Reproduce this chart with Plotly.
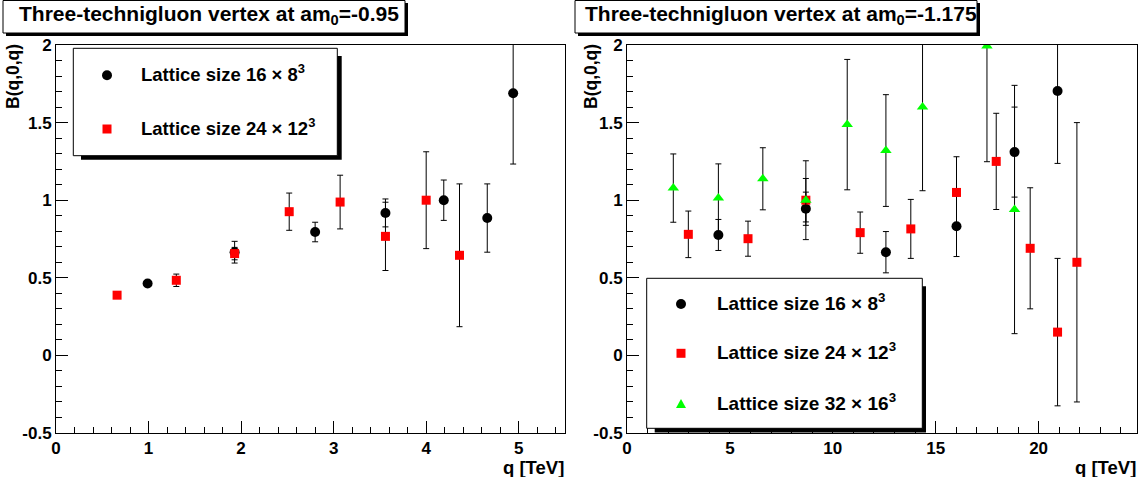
import plotly.graph_objects as go

W, H = 1145, 477

# ---------------- data ----------------
# left panel: am0 = -0.95
q_l_16 = [0.99, 1.93, 2.80, 3.56, 4.19, 4.66, 4.94]
B_l_16 = [0.463, 0.665, 0.795, 0.918, 1.0, 0.885, 1.689]
e_l_16 = [0.01, 0.07, 0.063, 0.09, 0.13, 0.22, 0.456]

q_l_24 = [0.66, 1.30, 1.93, 2.52, 3.07, 3.56, 4.00, 4.36]
B_l_24 = [0.388, 0.484, 0.656, 0.926, 0.988, 0.767, 1.0, 0.645]
e_l_24 = [0.01, 0.04, 0.04, 0.12, 0.173, 0.22, 0.312, 0.46]

# right panel: am0 = -1.175
q_r_16 = [4.44, 8.69, 12.58, 16.01, 18.83, 20.92]
B_r_16 = [0.776, 0.945, 0.665, 0.832, 1.31, 1.704]
e_r_16 = [0.1, 0.107, 0.133, 0.195, 0.29, 0.467]

q_r_24 = [2.98, 5.88, 8.69, 11.33, 13.79, 16.01, 17.94, 19.59, 20.92, 21.86]
B_r_24 = [0.78, 0.752, 1.0, 0.791, 0.815, 1.05, 1.25, 0.69, 0.15, 0.60]
e_r_24 = [0.15, 0.113, 0.14, 0.133, 0.19, 0.23, 0.31, 0.39, 0.475, 0.9]

q_r_32 = [2.25, 4.44, 6.60, 8.69, 10.70, 12.58, 14.36, 17.49, 18.83]
B_r_32 = [1.078, 1.014, 1.138, 1.0, 1.487, 1.32, 1.601, 1.994, 0.94]
e_r_32 = [0.22, 0.22, 0.2, 0.254, 0.42, 0.36, 0.54, 0.746, 0.8]

titles = ["Three-technigluon vertex at am<sub>0</sub>=-0.95",
          "Three-technigluon vertex at am<sub>0</sub>=-1.175"]
legend_labels = ["Lattice size 16 \u00d7 8<sup>3</sup>",
                 "Lattice size 24 \u00d7 12<sup>3</sup>",
                 "Lattice size 32 \u00d7 16<sup>3</sup>"]
x_title = "q [TeV]"
y_title = "B(q,0,q)"

FONT = "Liberation Sans, Arial, Helvetica, sans-serif"
RED = "#ff0000"
GREEN = "#00ff00"


def px(x):
    return x / W


def py(y):
    return 1 - y / H


fig = go.Figure()


def add_series(q, B, e, color, symbol, size, xa, ya):
    fig.add_trace(go.Scatter(
        x=q, y=B, mode="markers", xaxis=xa, yaxis=ya, showlegend=False,
        marker=dict(color=color, symbol=symbol, size=size, line=dict(width=0)),
        error_y=dict(type="data", array=e, visible=True, color="black",
                     thickness=1, width=3),
        hoverinfo="skip"))


add_series(q_l_16, B_l_16, e_l_16, "black", "circle", 10, "x", "y")
add_series(q_l_24, B_l_24, e_l_24, RED, "square", 9, "x", "y")
add_series(q_r_16, B_r_16, e_r_16, "black", "circle", 10, "x2", "y2")
add_series(q_r_24, B_r_24, e_r_24, RED, "square", 9, "x2", "y2")
add_series(q_r_32, B_r_32, e_r_32, GREEN, "triangle-up", 10, "x2", "y2")

tickfont = dict(family=FONT, size=17, color="black", weight="bold")
ydom = [py(433), py(45)]
common_x = dict(showline=True, mirror=True, linecolor="black", linewidth=1,
                showgrid=False, zeroline=False, ticks="inside", ticklen=12,
                tickcolor="black", tickwidth=1, tickfont=tickfont,
                automargin=False)
common_y = dict(common_x, range=[-0.5, 2],
                tickvals=[-0.5, 0, 0.5, 1, 1.5, 2],
                ticktext=["-0.5", "0", "0.5", "1", "1.5", "2"],
                minor=dict(dtick=0.1, tick0=0, ticks="inside", ticklen=6,
                           tickcolor="black", tickwidth=1),
                domain=ydom)

fig.update_layout(
    template="none",
    width=W, height=H, autosize=False,
    margin=dict(l=0, r=0, t=0, b=0, pad=0),
    paper_bgcolor="white", plot_bgcolor="white",
    xaxis=dict(common_x, domain=[px(56), px(565)], range=[0, 5.5],
               tick0=0, dtick=1,
               minor=dict(dtick=0.2, tick0=0, ticks="inside", ticklen=6,
                          tickcolor="black", tickwidth=1),
               anchor="y"),
    yaxis=dict(common_y, anchor="x"),
    xaxis2=dict(common_x, domain=[px(627), px(1137)], range=[0, 24.78],
                tick0=0, dtick=5,
                minor=dict(dtick=1, tick0=0, ticks="inside", ticklen=6,
                           tickcolor="black", tickwidth=1),
                anchor="y2"),
    yaxis2=dict(common_y, anchor="x2"),
)

shapes = []
annotations = []


def rect(x0, y0, x1, y1, fill, line=None, layer="above"):
    shapes.append(dict(type="rect", xref="paper", yref="paper",
                       x0=px(x0), x1=px(x1), y0=py(y1), y1=py(y0),
                       fillcolor=fill,
                       line=dict(color=line if line else fill,
                                 width=1 if line else 0),
                       layer=layer))


def text(x, y, s, size, xanchor="left", yanchor="middle", angle=0):
    annotations.append(dict(xref="paper", yref="paper", x=px(x), y=py(y),
                            text="<b>" + s + "</b>", showarrow=False,
                            xanchor=xanchor, yanchor=yanchor, textangle=angle,
                            font=dict(family=FONT, size=size, color="black"),
                            borderpad=0))


# title boxes
for (bx0, bx1, tx), t in zip([(3, 405, 18), (575, 977, 584)], titles):
    rect(bx0 + 3, 3, bx1 + 3, 36, "black")
    rect(bx0, 0.5, bx1, 33, "white", "black")
    text(tx, 15, t, 21)

# axis titles
for xr, yc in [(565, 13), (1137, 591)]:
    text(xr, 467, x_title, 18.5, xanchor="right")
    text(yc, 77, y_title, 17.5, xanchor="center", angle=-90)


def glyph(kind, cx, cy, color, s):
    h = s / 2
    if kind == "circle":
        shapes.append(dict(type="circle", xref="paper", yref="paper",
                           x0=px(cx - h), x1=px(cx + h), y0=py(cy + h), y1=py(cy - h),
                           fillcolor=color, line=dict(width=0), layer="above"))
    elif kind == "square":
        shapes.append(dict(type="rect", xref="paper", yref="paper",
                           x0=px(cx - h), x1=px(cx + h), y0=py(cy + h), y1=py(cy - h),
                           fillcolor=color, line=dict(width=0), layer="above"))
    else:
        path = "M {},{} L {},{} L {},{} Z".format(
            px(cx - h), py(cy + h * 0.8), px(cx + h), py(cy + h * 0.8),
            px(cx), py(cy - h))
        shapes.append(dict(type="path", xref="paper", yref="paper", path=path,
                           fillcolor=color, line=dict(width=0), layer="above"))


# left legend
rect(81, 56, 341.7, 159.7, "black")
rect(73.3, 48.3, 337.3, 155.7, "white", "black")
for (kind, col), yy, lab in zip([("circle", "black"), ("square", RED)],
                                [75.3, 129], legend_labels[:2]):
    glyph(kind, 107, yy, col, 10 if kind == "circle" else 9)
    text(140, yy - 2, lab, 18.5)

# right legend
rect(654.7, 286.3, 926, 432.5, "black")
rect(646.7, 278.3, 922.3, 428.3, "white", "black")
for (kind, col), yy, lab in zip([("circle", "black"), ("square", RED), ("triangle", GREEN)],
                                [304, 353.3, 404], legend_labels):
    glyph(kind, 681, yy, col, 10 if kind != "square" else 9)
    text(715.7, yy - 2, lab, 19)

fig.update_layout(shapes=shapes, annotations=annotations)

fig.write_html("out.html", config={"displayModeBar": False},
               post_script="document.body.style.margin='0';")
